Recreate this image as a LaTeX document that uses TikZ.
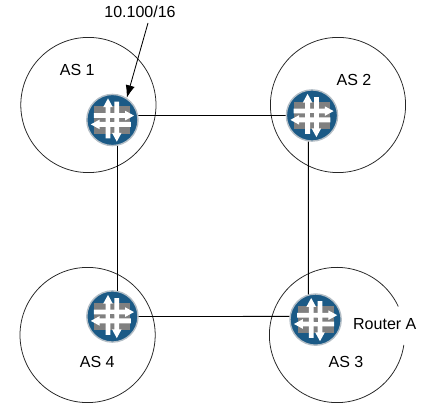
\documentclass[tikz,border=0pt]{standalone}
\usepackage{fontspec}
\setmainfont{Liberation Sans}
\usetikzlibrary{arrows.meta}
\definecolor{routerblue}{HTML}{1B5A86}
\definecolor{routerrim}{HTML}{B4BEC6}
\definecolor{routergray}{HTML}{808080}
\tikzset{
  asring/.style={draw=black!85, line width=0.55pt},
  link/.style={draw=black, line width=0.6pt},
  aslabel/.style={font=\fontsize{11.4}{13}\selectfont, inner sep=0pt},
  routerdisk/.style={circle, draw=routerrim, line width=1pt, fill=routerblue, minimum size=1.28cm, inner sep=0pt},
  pics/routericon/.style={code={
    % Gray panels
    \fill[routergray] (-0.45,-0.34) rectangle (0.45,0.34);
    % White arrows
    \fill[white] (-0.17,-0.46) -- (-0.17,0.32) -- (-0.23,0.32) -- (-0.11,0.54) -- (0.01,0.32) -- (-0.05,0.32) -- (-0.05,-0.46) -- cycle;
    \fill[white] (0.17,0.46) -- (0.17,-0.32) -- (0.23,-0.32) -- (0.11,-0.54) -- (-0.01,-0.32) -- (0.05,-0.32) -- (0.05,0.46) -- cycle;
    \fill[white] (-0.46,0.17) -- (0.32,0.17) -- (0.32,0.23) -- (0.54,0.11) -- (0.32,-0.01) -- (0.32,0.05) -- (-0.46,0.05) -- cycle;
    \fill[white] (0.46,-0.17) -- (-0.32,-0.17) -- (-0.32,-0.23) -- (-0.54,-0.11) -- (-0.32,0.01) -- (-0.32,-0.05) -- (0.46,-0.05) -- cycle;
    % Center block
    \fill[routergray] (-0.05,-0.05) rectangle (0.05,0.05);
  }}
}
\begin{document}
\begin{tikzpicture}
  \useasboundingbox (0,0) rectangle (10.9,10.45);

  % AS rings
  \draw[asring] (2.21,7.825) circle (1.69);
  \draw[asring] (8.45,7.825) circle (1.69);
  \draw[asring] (2.19,2.075) circle (1.69);
  % Ring of AS 3 stays open at the label
  \draw[asring] ([shift=(25:1.69)]8.425,2.075) arc (25:351.5:1.69);

  % Routers
  \node[routerdisk] (r1) at (2.81,7.45) {};
  \node[routerdisk] (r2) at (7.8,7.5625) {};
  \node[routerdisk] (r3) at (7.89,2.46) {};
  \node[routerdisk] (r4) at (2.81,2.5375) {};
  \foreach \r in {r1,r2,r3,r4}
    \pic at (\r) {routericon};

  % Links
  \draw[link] (r1.10) -- (r2.180);
  \draw[link] (r1.-79) -- (r4.79);
  \draw[link] (r2.-98) -- (r3.106);
  \draw[link] (r4.0) -- (r3.173);

  % Labels
  \node[aslabel] (as1) at (1.93,8.7) {AS 1};
  \node[aslabel] (as2) at (8.85,8.45) {AS 2};
  \node[aslabel] (as3) at (8.65,1.4) {AS 3};
  \node[aslabel] (as4) at (2.43,1.4) {AS 4};
  \node[aslabel] (routera) at (9.62,2.35) {Router A};
  \node[aslabel] (prefix) at (3.5,10.15) {10.100/16};

  % Prefix pointer
  \coordinate (prefixtail) at (3.7,9.875);
  \draw[link, -{Latex[length=9pt,width=6.5pt]}] (prefixtail) -- (r1.57);
\end{tikzpicture}
\end{document}
